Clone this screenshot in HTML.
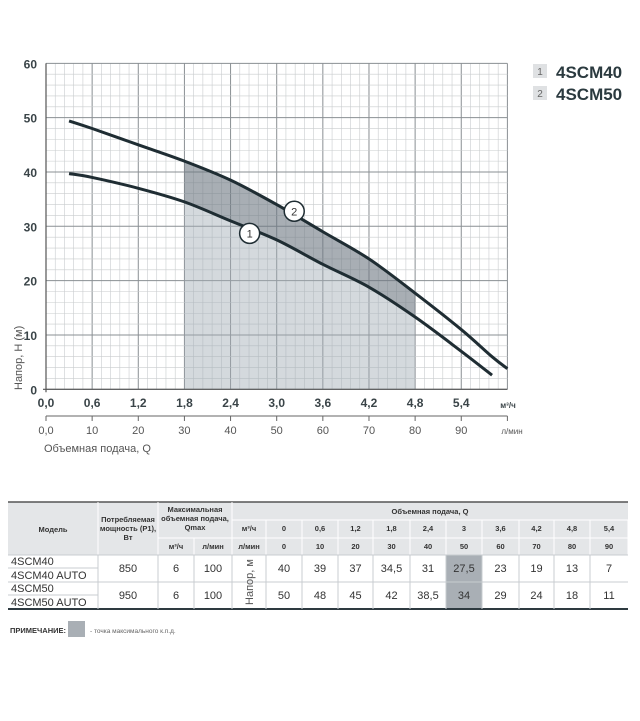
<!DOCTYPE html>
<html><head><meta charset="utf-8"><style>
body{margin:0;background:#fff;width:640px;height:716px;overflow:hidden;font-family:"Liberation Sans",sans-serif}
svg text{font-family:"Liberation Sans",sans-serif}
</style></head><body>
<svg id="svg" width="640" height="716" xmlns="http://www.w3.org/2000/svg">
<g id="grid"></g>
<g id="shade"></g>
<g id="curves"></g>
<g id="axes"></g>
<g id="legend">
 <rect x="533" y="64" width="14" height="14" fill="#dfe1e3"/>
 <text x="540" y="75" font-size="10" fill="#666" text-anchor="middle">1</text>
 <text x="556" y="78" font-size="17" font-weight="bold" fill="#2b3a3f">4SCM40</text>
 <rect x="533" y="86" width="14" height="14" fill="#dfe1e3"/>
 <text x="540" y="97" font-size="10" fill="#666" text-anchor="middle">2</text>
 <text x="556" y="100" font-size="17" font-weight="bold" fill="#2b3a3f">4SCM50</text>
</g>
<g id="table"></g>
</svg>
<script>
const qTicks=["0,0","0,6","1,2","1,8","2,4","3,0","3,6","4,2","4,8","5,4"];
const lTicks=["0,0","10","20","30","40","50","60","70","80","90"];
const hTicks=[0,10,20,30,40,50,60];
const curveQ=[0.3,0.6,1.2,1.8,2.4,3.0,3.6,4.2,4.8,5.4,5.8,6.0];
const h40=[39.7,39,37,34.5,31,27.5,23,18.8,13.3,7,2.6,null];
const h50=[49.4,48,45,42,38.5,34,29,24,17.7,11,6,3.8];
const rangeQ=[1.8,4.8];
const models=["4SCM40","4SCM40 AUTO","4SCM50","4SCM50 AUTO"];
const power=["850","950"];
const tabQ=["0","0,6","1,2","1,8","2,4","3","3,6","4,2","4,8","5,4"];
const tabL=["0","10","20","30","40","50","60","70","80","90"];
const tab40=["40","39","37","34,5","31","27,5","23","19","13","7"];
const tab50=["50","48","45","42","38,5","34","29","24","18","11"];
const bestIdx=5;
const NS="http://www.w3.org/2000/svg";
const X0=46,XS=76.9,Y0=389.3,YS=5.433;
const X=q=>X0+q*XS, Y=h=>Y0-h*YS;
function el(p,t,a,txt){const e=document.createElementNS(NS,t);for(const k in a)e.setAttribute(k,a[k]);if(txt!==undefined)e.textContent=txt;p.appendChild(e);return e;}
const grid=document.getElementById('grid');
for(let i=0;i<=50;i++){const q=i*0.12;const major=i%5==0;const l=el(grid,'line',{x1:X(q),x2:X(q),y1:Y(60),y2:Y(0),stroke:major?'#8a8f93':'#c9ccce','stroke-width':major?1:0.6});

}
for(let i=0;i<=30;i++){const h=i*2;const major=i%5==0;const l=el(grid,'line',{x1:X(0),x2:X(6),y1:Y(h),y2:Y(h),stroke:major?'#8a8f93':'#c9ccce','stroke-width':major?1:0.6});

}
function interp(arr,q){for(let i=0;i<curveQ.length-1;i++){if(q>=curveQ[i]&&q<=curveQ[i+1]&&arr[i+1]!=null){const t=(q-curveQ[i])/(curveQ[i+1]-curveQ[i]);return arr[i]+t*(arr[i+1]-arr[i]);}}return arr[0];}
const shade=document.getElementById('shade');
let p1=`M${X(rangeQ[0])},${Y(0)}`;
const steps=[];for(let q=rangeQ[0];q<=rangeQ[1]+1e-9;q+=0.05)steps.push(q);
steps.forEach(q=>{p1+=` L${X(q)},${Y(interp(h40,q))}`;});
p1+=` L${X(rangeQ[1])},${Y(0)}Z`;
const s1=el(shade,'path',{d:p1,fill:'rgba(160,170,180,0.45)'});


let p2='M';steps.forEach((q,i)=>{p2+=(i?' L':'')+X(q)+','+Y(interp(h50,q));});
steps.slice().reverse().forEach(q=>{p2+=` L${X(q)},${Y(interp(h40,q))}`;});p2+='Z';
const s2=el(shade,'path',{d:p2,fill:'rgba(110,120,130,0.6)'});


const cv=document.getElementById('curves');
function smooth(arr){const pts=[];curveQ.forEach((q,i)=>{if(arr[i]!=null)pts.push([X(q),Y(arr[i])]);});
let d=`M${pts[0][0]},${pts[0][1]}`;for(let i=0;i<pts.length-1;i++){const p0=pts[Math.max(0,i-1)],a=pts[i],b=pts[i+1],p3=pts[Math.min(pts.length-1,i+2)];
d+=` C${a[0]+(b[0]-p0[0])/6},${a[1]+(b[1]-p0[1])/6} ${b[0]-(p3[0]-a[0])/6},${b[1]-(p3[1]-a[1])/6} ${b[0]},${b[1]}`;}return d;}
const c1=el(cv,'path',{d:smooth(h40),fill:'none',stroke:'#1f2d33','stroke-width':3});


const c2=el(cv,'path',{d:smooth(h50),fill:'none',stroke:'#1f2d33','stroke-width':3});


[[2.7,h40,'1'],[3.28,h50,'2']].forEach(([q,arr,t])=>{const g=el(cv,'g',{});


const cx=X(q)-4,cy=Y(interp(arr,q))+(t=='1'?3:-6);
el(g,'circle',{cx:cx,cy:cy,r:10,fill:'#fff',stroke:'#1f2d33','stroke-width':1.5});
el(g,'text',{x:cx,y:cy+4,'font-size':11,'text-anchor':'middle',fill:'#333'},t);});
const ax=document.getElementById('axes');
el(ax,'line',{x1:X(0),x2:X(0),y1:Y(60),y2:Y(0)+3,stroke:'#555','stroke-width':1.2});
el(ax,'line',{x1:X(0)-3,x2:X(6),y1:Y(0),y2:Y(0),stroke:'#555','stroke-width':1.2});
hTicks.forEach(h=>{const t=el(ax,'text',{x:37,y:Y(h)+5,'font-size':12,'font-weight':'bold','text-anchor':'end',fill:'#3a4448'},h);

});
qTicks.forEach((s,i)=>{const t=el(ax,'text',{x:X(i*0.6),y:407,'font-size':12,'font-weight':'bold','text-anchor':'middle',fill:'#3a4448'},s);

});
el(ax,'text',{x:508,y:408,'font-size':8,'font-weight':'bold','text-anchor':'middle',fill:'#3a4448'},'м³/ч');
el(ax,'line',{x1:X(0),x2:X(6),y1:416,y2:416,stroke:'#666','stroke-width':1});
lTicks.forEach((s,i)=>{el(ax,'line',{x1:X(i*0.6),x2:X(i*0.6),y1:416,y2:421,stroke:'#666'});
const t=el(ax,'text',{x:X(i*0.6),y:434,'font-size':11,'text-anchor':'middle',fill:'#555'},s);

});
el(ax,'line',{x1:X(6),x2:X(6),y1:416,y2:421,stroke:'#666'});
el(ax,'text',{x:512,y:434,'font-size':8,'text-anchor':'middle',fill:'#555'},'л/мин');
const xt=el(ax,'text',{x:44,y:452,'font-size':11,fill:'#555'},'Объемная подача, Q');


const yt=el(ax,'text',{x:0,y:0,'font-size':11,fill:'#555',transform:'translate(22,390) rotate(-90)'},'Напор, H (м)');


// table
const tb=document.getElementById('table');
const cols=[8,98,158,194,232,266,302,338,373,410,446,482,519,554,590,628];
const R={top:502,h1:520,h2:538,h3:555,r1:568,r2:582,r3:595,bot:609};
el(tb,'rect',{x:8,y:R.top,width:620,height:R.h3-R.top,fill:'#e4e6e8'});
el(tb,'rect',{x:cols[bestIdx+5],y:R.h3,width:cols[bestIdx+6]-cols[bestIdx+5],height:R.bot-R.h3,fill:'#a9afb5'});
el(tb,'line',{x1:8,x2:628,y1:R.top,y2:R.top,stroke:'#555','stroke-width':1.5});
el(tb,'line',{x1:8,x2:628,y1:R.bot,y2:R.bot,stroke:'#2e3a40','stroke-width':2});
const ln=(x1,y1,x2,y2)=>el(tb,'line',{x1,y1,x2,y2,stroke:'#fff','stroke-width':1});
const gl=(x1,y1,x2,y2)=>el(tb,'line',{x1,y1,x2,y2,stroke:'#c8ccd0','stroke-width':1});
[1,2,4].forEach(i=>ln(cols[i],R.top,cols[i],R.h3));
ln(cols[3],R.h2,cols[3],R.h3);for(let i=5;i<16;i++)ln(cols[i],R.h1,cols[i],R.h3);
ln(cols[4],R.h1,628,R.h1);ln(cols[2],R.h2,628,R.h2);
gl(8,R.h3,628,R.h3);gl(8,R.r2,628,R.r2);gl(8,R.r1,cols[1],R.r1);gl(8,R.r3,cols[1],R.r3);
for(let i=1;i<15;i++)gl(cols[i],R.h3,cols[i],R.bot);
const T=(x,y,s,o)=>{const t=el(tb,'text',Object.assign({x,y,'font-size':7.5,'font-weight':'bold','text-anchor':'middle',fill:'#333'},o||{}),s);return t;};
T(53,532,'Модель');T(128,522,'Потребляемая');T(128,531,'мощность (P1),');T(128,540,'Вт');
T(195,512,'Максимальная');T(195,521,'объемная подача,');T(195,530,'Qmax');
T(176,549,'м³/ч');T(213,549,'л/мин');T(430,514,'Объемная подача, Q');T(249,531,'м³/ч');T(249,549,'л/мин');
for(let i=0;i<10;i++){T((cols[i+5]+cols[i+6])/2,531,tabQ[i]);T((cols[i+5]+cols[i+6])/2,549,tabL[i]);}
models.forEach((m,i)=>{const t=T(11,[565,579,592,606][i],m,{'font-size':11,'font-weight':'normal','text-anchor':'start'});

});
[[power[0],572],[power[1],599]].forEach(([p,y])=>{T(128,y,p,{'font-size':11,'font-weight':'normal'});T(176,y,'6',{'font-size':11,'font-weight':'normal'});T(213,y,'100',{'font-size':11,'font-weight':'normal'});});
el(tb,'text',{x:0,y:0,'font-size':11,fill:'#555','text-anchor':'middle',transform:'translate(253,582) rotate(-90)'},'Напор, м');
for(let i=0;i<10;i++){const cx=(cols[i+5]+cols[i+6])/2;
const a=T(cx,572,tab40[i],{'font-size':11,'font-weight':'normal'});
const b=T(cx,599,tab50[i],{'font-size':11,'font-weight':'normal'});}
T(10,633,'ПРИМЕЧАНИЕ:',{'text-anchor':'start','font-size':7.5});
el(tb,'rect',{x:68,y:621,width:17,height:16,fill:'#a9afb5'});
T(90,633,'- точка максимального к.п.д.',{'text-anchor':'start','font-size':6.5,'font-weight':'normal',fill:'#666'});
</script>
</body></html>
